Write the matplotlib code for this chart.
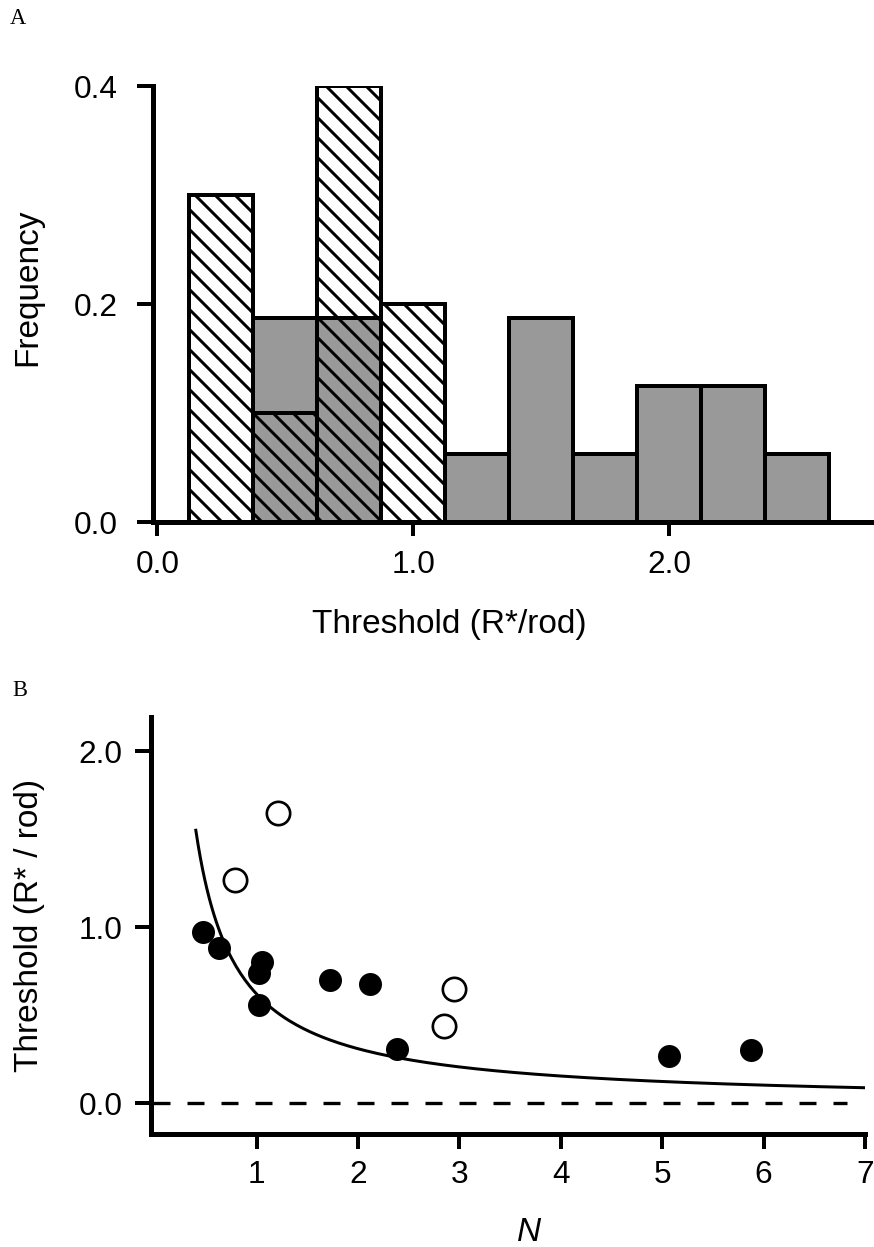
import numpy as np
import matplotlib
matplotlib.use("Agg")
from matplotlib import pyplot as plt

plt.rcParams['font.family'] = ['Liberation Sans', 'DejaVu Sans']
plt.rcParams['hatch.linewidth'] = 1.8
plt.rcParams['hatch.color'] = 'black'

# --- panel A data: histogram of thresholds ---
bin_left = [0.125, 0.375, 0.625, 0.875, 1.125, 1.375, 1.625, 1.875, 2.125, 2.375]
bin_width = 0.25
hatched_freq = [0.3, 0.1, 0.4, 0.2, 0, 0, 0, 0, 0, 0]
gray_freq = [0, 0.1875, 0.1875, 0, 0.0625, 0.1875, 0.0625, 0.125, 0.125, 0.0625]

# --- panel B data: threshold vs N ---
filled_N = [0.47, 0.63, 1.05, 1.02, 1.02, 1.72, 2.12, 2.38, 5.07, 5.88]
filled_thr = [0.97, 0.88, 0.80, 0.74, 0.56, 0.70, 0.68, 0.31, 0.27, 0.30]
open_N = [0.79, 1.21, 2.85, 2.95]
open_thr = [1.27, 1.65, 0.44, 0.65]
fit_k = 0.62          # threshold = k / N
fit_range = (0.40, 7.0)

W, H, DPI = 874, 1247, 120
fig = plt.figure(figsize=(W / DPI, H / DPI), dpi=DPI)

def px_axes(left, right, top, bottom):
    return fig.add_axes([left / W, 1 - bottom / H, (right - left) / W, (bottom - top) / H])

# ---------------- panel A ----------------
axA = px_axes(152.7, 874, 86, 522)
gl = [b for b, f in zip(bin_left, gray_freq) if f > 0]
gf = [f for f in gray_freq if f > 0]
axA.bar(gl, gf, width=bin_width, align='edge', color='#999999',
        edgecolor='black', linewidth=2.4, zorder=2)
hl = [b for b, f in zip(bin_left, hatched_freq) if f > 0]
hf = [f for f in hatched_freq if f > 0]
axA.bar(hl, hf, width=bin_width, align='edge', facecolor='none',
        edgecolor='black', linewidth=2.4, hatch='\\\\', zorder=3)

axA.set_xlim(-0.018, 2.80)
axA.set_ylim(0, 0.4)
axA.set_xticks([0, 1, 2])
axA.set_xticklabels(['0.0', '1.0', '2.0'])
axA.set_yticks([0, 0.2, 0.4])
axA.set_yticklabels(['0.0', '0.2', '0.4'])
axA.tick_params(axis='y', length=9.6, width=2.4, pad=11.4, labelsize=19)
axA.tick_params(axis='x', length=8.4, width=2.4, pad=8.4, labelsize=19)
for s in ['top', 'right']:
    axA.spines[s].set_visible(False)
for s in ['left', 'bottom']:
    axA.spines[s].set_linewidth(3)
axA.set_ylabel('Frequency', fontsize=20, va='center')
axA.yaxis.set_label_coords(-0.1729, 0.538)
axA.set_xlabel('Threshold (R*/rod)', fontsize=20, va='baseline')
axA.xaxis.set_label_coords(0.4108, -0.2553)

# ---------------- panel B ----------------
axB = px_axes(150.7, 865, 717, 1134)
axB.hlines(0, -0.02, 6.82, colors='black', linewidth=2,
           linestyles=(0, (5.1, 5.1)), zorder=1)
nn = np.linspace(fit_range[0], fit_range[1], 300)
axB.plot(nn, fit_k / nn, color='black', linewidth=1.8, zorder=2)
axB.plot(filled_N, filled_thr, 'o', color='black', markersize=13.8,
         markeredgewidth=0, linestyle='none', zorder=3)
axB.plot(open_N, open_thr, 'o', markerfacecolor='white', markeredgecolor='black',
         markersize=14, markeredgewidth=1.6, linestyle='none', zorder=3)

axB.set_xlim(-0.045, 7.0)
axB.set_ylim(-0.174, 2.193)
axB.set_xticks([1, 2, 3, 4, 5, 6, 7])
axB.set_yticks([0, 1, 2])
axB.set_yticklabels(['0.0', '1.0', '2.0'])
axB.tick_params(axis='y', length=9.6, width=2.4, pad=7.2, labelsize=19)
axB.tick_params(axis='x', length=9, width=2.4, pad=6.6, labelsize=19)
for s in ['top', 'right']:
    axB.spines[s].set_visible(False)
for s in ['left', 'bottom']:
    axB.spines[s].set_linewidth(3)
axB.set_ylabel('Threshold (R* / rod)', fontsize=20, va='center')
axB.yaxis.set_label_coords(-0.169, 0.5)
axB.set_xlabel('N', fontsize=20, fontstyle='italic', va='baseline')
axB.xaxis.set_label_coords(0.5296, -0.2565)

# panel letters
fig.text(10 / W, 1 - 24 / H, 'A', family='Liberation Serif', fontsize=13.5, va='baseline')
fig.text(12 / W, 1 - 696 / H, 'B', family='Liberation Serif', fontsize=13.5, va='baseline')

fig.savefig('out.png', dpi=DPI, facecolor='white')
